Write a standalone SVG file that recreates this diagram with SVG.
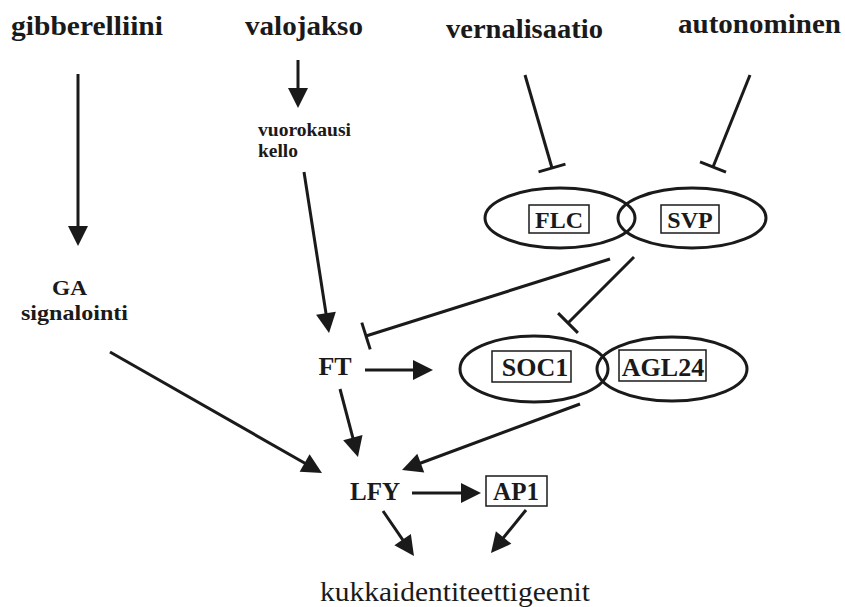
<svg xmlns="http://www.w3.org/2000/svg" width="845" height="607" viewBox="0 0 845 607">
<defs>
<style>
text{font-family:"Liberation Serif","Times New Roman",serif;fill:#1a1a1a}
.b{font-weight:bold}
.c{stroke:#1a1a1a;stroke-width:3;fill:none}
.a{marker-end:url(#arr)}
.i{marker-end:url(#bar)}
.ell{fill:none;stroke:#1a1a1a;stroke-width:3}
.box{fill:none;stroke:#1a1a1a;stroke-width:1.5}
</style>
<marker id="arr" markerUnits="userSpaceOnUse" markerWidth="22" markerHeight="22" refX="10" refY="10" orient="auto" overflow="visible">
<path d="M0,0 L20,10 L0,20 Z" fill="#1a1a1a"/>
</marker>
<marker id="bar" markerUnits="userSpaceOnUse" markerWidth="6" markerHeight="30" refX="3" refY="14" orient="auto" overflow="visible">
<path d="M3,0 L3,28" stroke="#1a1a1a" stroke-width="3" fill="none"/>
</marker>
</defs>
<rect width="845" height="607" fill="#fff"/>

<g id="gibberelliini"><text class="b" x="11" y="35" font-size="27" textLength="152" lengthAdjust="spacingAndGlyphs">gibberelliini</text></g>
<g id="valojakso"><text class="b" x="245" y="35" font-size="27" textLength="118" lengthAdjust="spacingAndGlyphs">valojakso</text></g>
<g id="vernalisaatio"><text class="b" x="446" y="38" font-size="27" textLength="157" lengthAdjust="spacingAndGlyphs">vernalisaatio</text></g>
<g id="autonominen"><text class="b" x="678" y="33" font-size="27" textLength="163" lengthAdjust="spacingAndGlyphs">autonominen</text></g>

<g id="vuorokausi-kello">
<text class="b" x="258" y="136" font-size="19" textLength="93" lengthAdjust="spacingAndGlyphs">vuorokausi</text>
<text class="b" x="258" y="157" font-size="19" textLength="40" lengthAdjust="spacingAndGlyphs">kello</text>
</g>

<g id="GA-signalointi">
<text class="b" x="52" y="295" font-size="22" textLength="35" lengthAdjust="spacingAndGlyphs">GA</text>
<text class="b" x="21" y="320" font-size="22" textLength="107" lengthAdjust="spacingAndGlyphs">signalointi</text>
</g>

<g id="FLC-SVP">
<ellipse class="ell" cx="560" cy="218" rx="75" ry="30"/>
<ellipse class="ell" cx="692" cy="218" rx="74" ry="30"/>
<rect class="box" x="529" y="205" width="60" height="28"/>
<rect class="box" x="661" y="205" width="58" height="28"/>
<text class="b" x="559" y="228" font-size="24" text-anchor="middle">FLC</text>
<text class="b" x="690" y="228" font-size="24" text-anchor="middle">SVP</text>
</g>

<g id="FT"><text class="b" x="335" y="375" font-size="26" text-anchor="middle">FT</text></g>

<g id="SOC1-AGL24">
<ellipse class="ell" cx="534" cy="369" rx="74" ry="33"/>
<ellipse class="ell" cx="672" cy="369" rx="75" ry="32"/>
<rect class="box" x="492" y="351" width="79" height="31"/>
<rect class="box" x="619" y="350" width="87" height="31"/>
<text class="b" x="535" y="376" font-size="26" text-anchor="middle">SOC1</text>
<text class="b" x="663" y="376" font-size="26" text-anchor="middle">AGL24</text>
</g>

<g id="LFY"><text class="b" x="375" y="500" font-size="25" text-anchor="middle">LFY</text></g>

<g id="AP1">
<rect class="box" x="486" y="476" width="61" height="30"/>
<text class="b" x="516" y="500" font-size="25" text-anchor="middle">AP1</text>
</g>

<g id="kukkaidentiteettigeenit"><text x="320" y="601" font-size="27" textLength="270" lengthAdjust="spacingAndGlyphs">kukkaidentiteettigeenit</text></g>

<g id="connectors">
<line class="c a" x1="78" y1="74" x2="78" y2="236"/>
<line class="c a" x1="298" y1="60" x2="298" y2="98"/>
<line class="c a" x1="304" y1="172" x2="327.5" y2="323.1"/>
<line class="c a" x1="110" y1="352" x2="313.3" y2="468"/>
<line class="c a" x1="365" y1="370" x2="423" y2="370"/>
<line class="c a" x1="340" y1="389" x2="355.4" y2="447.3"/>
<line class="c a" x1="580" y1="404" x2="411.4" y2="466.5"/>
<line class="c a" x1="412" y1="493" x2="471" y2="493"/>
<line class="c a" x1="383" y1="511" x2="408.3" y2="547.8"/>
<line class="c a" x1="526" y1="510" x2="497.3" y2="545.2"/>
<line class="c i" x1="525" y1="75" x2="552" y2="168"/>
<line class="c i" x1="750" y1="75" x2="713" y2="167"/>
<line class="c i" x1="610" y1="259" x2="366" y2="336"/>
<line class="c i" x1="634" y1="257" x2="568" y2="323"/>
</g>
</svg>
